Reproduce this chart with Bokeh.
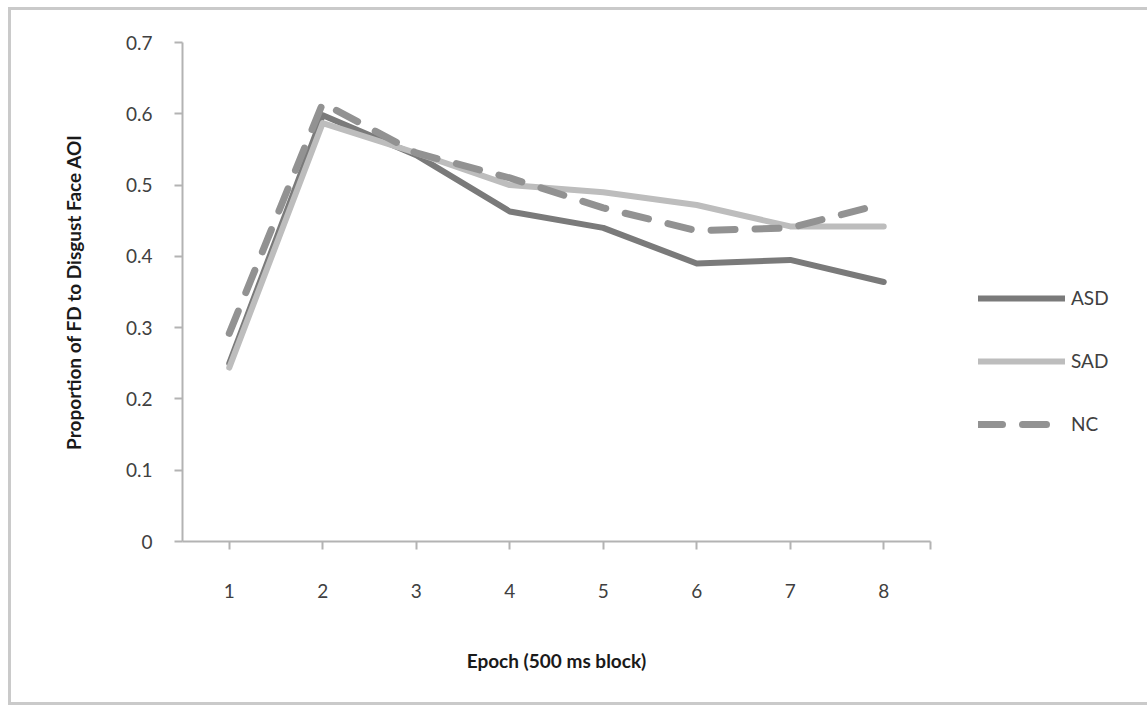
from bokeh.plotting import figure
from bokeh.models import Legend, LegendItem, FixedTicker, Range1d
from bokeh.embed import file_html
from bokeh.resources import INLINE

epochs = [1, 2, 3, 4, 5, 6, 7, 8]
asd = [0.25, 0.598, 0.542, 0.463, 0.440, 0.390, 0.395, 0.364]
sad = [0.244, 0.587, 0.545, 0.500, 0.490, 0.472, 0.442, 0.442]
nc = [0.292, 0.615, 0.545, 0.510, 0.468, 0.436, 0.440, 0.474]
series_names = ["ASD", "SAD", "NC"]
y_ticks = [0, 0.1, 0.2, 0.3, 0.4, 0.5, 0.6, 0.7]
y_labels = {0: "0", 0.1: "0.1", 0.2: "0.2", 0.3: "0.3", 0.4: "0.4", 0.5: "0.5", 0.6: "0.6", 0.7: "0.7"}

FONT = "Lato"

p = figure(frame_width=748, frame_height=499, output_backend="svg", toolbar_location=None,
           x_range=Range1d(0.5, 8.5), y_range=Range1d(0, 0.7),
           min_border_left=171, min_border_top=32, min_border_right=203, min_border_bottom=161)
p.styles = {"border": "3px solid #cacaca", "margin": "7px 0px 0px 8px"}
p.outline_line_color = None
p.grid.visible = False
p.background_fill_color = "white"
p.border_fill_color = "white"

r1 = p.line(epochs, asd, line_color="#7a7a7a", line_width=6, line_join="round", line_cap="round")
r2 = p.line(epochs, sad, line_color="#bdbdbd", line_width=6, line_join="round", line_cap="round")
r3 = p.line(epochs, nc, line_color="#929292", line_width=7, line_dash="24 20", line_join="round", line_cap="round")

xt = epochs + [8.5]
p.xaxis.ticker = FixedTicker(ticks=xt)
p.xaxis.major_label_overrides = {**{e: str(e) for e in epochs}, 8.5: ""}
p.yaxis.ticker = FixedTicker(ticks=y_ticks)
p.yaxis.major_label_overrides = y_labels

for ax in (p.xaxis, p.yaxis):
    ax.axis_line_color = "#b3b3b3"
    ax.axis_line_width = 2
    ax.major_tick_line_color = "#b3b3b3"
    ax.major_tick_line_width = 2
    ax.major_tick_out = 8
    ax.major_tick_in = 0
    ax.minor_tick_line_color = None
    ax.major_label_text_font = FONT
    ax.major_label_text_font_size = "19px"
    ax.major_label_text_color = "#404040"
    ax.axis_label_text_font = FONT
    ax.axis_label_text_font_size = "19px"
    ax.axis_label_text_font_style = "bold"
    ax.axis_label_text_color = "#1a1a1a"

p.xaxis.major_label_standoff = 34
p.yaxis.major_label_standoff = 22
p.xaxis.axis_label = "Epoch (500 ms block)"
p.yaxis.axis_label = "Proportion of FD to Disgust Face AOI"
p.xaxis.axis_label_standoff = 48
p.yaxis.axis_label_standoff = 38

legend = Legend(items=[LegendItem(label=series_names[0], renderers=[r1]),
                       LegendItem(label=series_names[1], renderers=[r2]),
                       LegendItem(label=series_names[2], renderers=[r3])],
                location=(48, 106))
legend.glyph_width = 87
legend.glyph_height = 20
legend.label_height = 20
legend.label_standoff = 6
legend.spacing = 40
legend.padding = 0
legend.margin = 0
legend.border_line_color = None
legend.background_fill_alpha = 0
legend.label_text_font = FONT
legend.label_text_font_size = "19px"
legend.label_text_color = "#404040"
p.add_layout(legend, "right")

open("out.html", "w").write(file_html(p, INLINE))
